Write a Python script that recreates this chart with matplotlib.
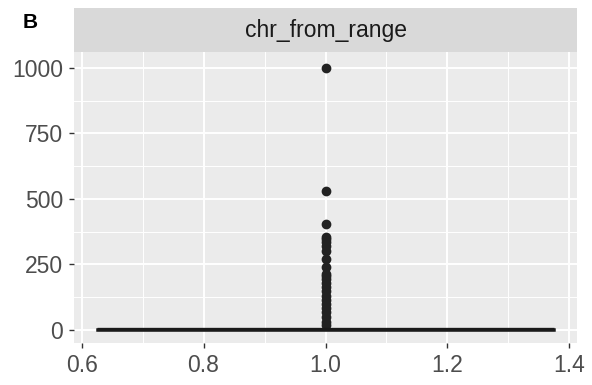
import matplotlib.pyplot as plt
from matplotlib.ticker import MultipleLocator

plt.rcParams['font.family'] = ['Liberation Sans', 'DejaVu Sans']

# box summary
facet = "chr_from_range"
q1, med, q3 = 0, 2, 5
whislo, whishi = 0, 12
fliers = [1000, 530, 405, 355, 345, 335, 320, 300, 270, 240, 215, 205,
          195, 180, 165, 150, 130, 115, 100, 85, 70, 50, 30, 20]
xticks = [0.6, 0.8, 1.0, 1.2, 1.4]
yticks = [0, 250, 500, 750, 1000]

fig = plt.figure(figsize=(5.92, 3.85), dpi=100)
ax = fig.add_axes([74 / 592, 1 - 343 / 385, 503 / 592, 291 / 385])
ax.set_facecolor('#EBEBEB')

stats = [dict(med=med, q1=q1, q3=q3, whislo=whislo, whishi=whishi, fliers=fliers)]
ax.bxp(stats, positions=[1.0], widths=0.75, showcaps=False, patch_artist=True,
       boxprops=dict(facecolor='white', edgecolor='#1A1A1A', linewidth=1.8),
       medianprops=dict(color='#1A1A1A', linewidth=2.4),
       whiskerprops=dict(color='#1A1A1A', linewidth=1.8),
       flierprops=dict(marker='o', markerfacecolor='#222222', markeredgecolor='#222222',
                       markersize=6))

ax.set_xlim(0.5875, 1.4125)
ax.set_ylim(-50, 1060)
ax.set_xticks(xticks)
ax.set_xticklabels([f"{v:.1f}" for v in xticks])
ax.set_yticks(yticks)
ax.set_yticklabels([str(v) for v in yticks])
ax.xaxis.set_minor_locator(MultipleLocator(0.1))
ax.yaxis.set_minor_locator(MultipleLocator(125))
ax.grid(which='major', color='white', linewidth=1.4)
ax.grid(which='minor', color='white', linewidth=0.7)
ax.set_axisbelow(True)
for s in ax.spines.values():
    s.set_visible(False)
ax.tick_params(which='major', length=3.6, width=1, color='#333333', labelcolor='#4D4D4D',
               labelsize=16.5)
ax.tick_params(axis='y', pad=4.3)
ax.tick_params(axis='x', pad=4.5)
ax.tick_params(which='minor', length=0)

# facet strip
strip = fig.add_axes([74 / 592, 1 - 52 / 385, 503 / 592, 44 / 385])
strip.set_facecolor('#D9D9D9')
strip.set_xticks([])
strip.set_yticks([])
for s in strip.spines.values():
    s.set_visible(False)
strip.text(0.5, 0.5, facet, ha='center', va='center', fontsize=16.5, color='#1A1A1A')

fig.text(30 / 592, 1 - 23 / 385, "B", fontsize=15, fontweight='bold', ha='center', va='center')

fig.savefig('out.png', dpi=100)
